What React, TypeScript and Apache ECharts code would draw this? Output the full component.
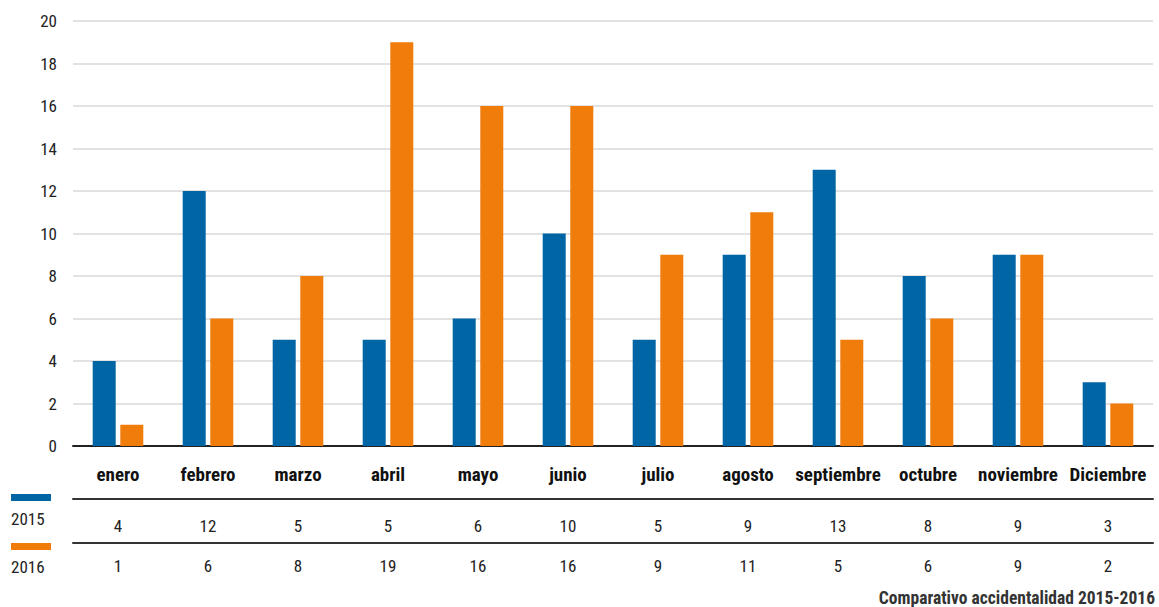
import React, { useEffect, useRef } from "react";
import * as echarts from "echarts";

const months = ["enero", "febrero", "marzo", "abril", "mayo", "junio", "julio", "agosto", "septiembre", "octubre", "noviembre", "Diciembre"];
const seriesNames = ["2015", "2016"];
const values2015 = [4, 12, 5, 5, 6, 10, 5, 9, 13, 8, 9, 3];
const values2016 = [1, 6, 8, 19, 16, 16, 9, 11, 5, 6, 9, 2];
const colors = ["#0065A5", "#F07C0C"];
const titleText = "Comparativo accidentalidad 2015-2016";

const FONT = "'Roboto Condensed', 'Liberation Sans Narrow', 'DejaVu Sans Condensed', Roboto, sans-serif";

export default function App() {
  const ref = useRef<HTMLDivElement>(null);
  useEffect(() => {
    if (!ref.current) return;
    const chart = echarts.init(ref.current, null, { renderer: "svg" });
    const valueAxis = (data: number[], offset: number, margin: number) => ({
      type: "category",
      data: data.map(String),
      position: "bottom",
      offset,
      axisLine: { show: true, lineStyle: { color: "#333", width: 2 } },
      axisTick: { show: false },
      axisLabel: { interval: 0, margin, fontSize: 17, color: "#222", fontFamily: FONT },
    });
    chart.setOption({
      animation: false,
      textStyle: { fontFamily: FONT },
      title: {
        text: titleText,
        right: 4,
        bottom: 0,
        padding: 0,
        textStyle: { fontSize: 17.5, fontWeight: "bold", color: "#333", fontFamily: FONT },
      },
      grid: { left: 73, right: 6, top: 21, bottom: 161, containLabel: false },
      xAxis: [
        {
          type: "category",
          data: months,
          axisLine: { show: true, lineStyle: { color: "#222", width: 2 } },
          axisTick: { show: false },
          axisLabel: { interval: 0, margin: 19, fontSize: 19, fontWeight: "bold", color: "#111", fontFamily: FONT },
        },
        valueAxis(values2015, 53, 18),
        valueAxis(values2016, 97, 14),
      ],
      yAxis: {
        type: "value",
        min: 0,
        max: 20,
        interval: 2,
        axisLine: { show: false },
        axisTick: { show: false },
        axisLabel: { margin: 16, fontSize: 17, color: "#222", fontFamily: FONT },
        splitLine: { lineStyle: { color: "#d9d9d9", width: 1.5 } },
      },
      series: [
        { name: seriesNames[0], type: "bar", data: values2015, barWidth: 23, barGap: "20%", itemStyle: { color: colors[0] } },
        { name: seriesNames[1], type: "bar", data: values2016, barWidth: 23, barGap: "20%", itemStyle: { color: colors[1] } },
      ],
      graphic: [
        { type: "rect", left: 11, top: 494, shape: { width: 40, height: 7 }, style: { fill: colors[0] } },
        { type: "text", left: 11, top: 510, style: { text: seriesNames[0], fontSize: 17, fill: "#222", fontFamily: FONT } },
        { type: "rect", left: 11, top: 543, shape: { width: 40, height: 7 }, style: { fill: colors[1] } },
        { type: "text", left: 11, top: 558, style: { text: seriesNames[1], fontSize: 17, fill: "#222", fontFamily: FONT } },
      ],
    });
    return () => chart.dispose();
  }, []);
  return <div ref={ref} style={{ position: "absolute", left: 0, top: 0, width: 1159, height: 607 }} />;
}
